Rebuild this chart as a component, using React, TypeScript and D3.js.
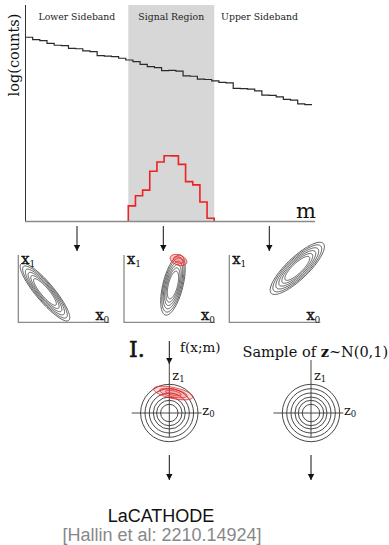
import * as d3 from 'd3';

// background histogram (log counts per mass bin, 40 bins)
const bkgLogCounts = [
  8.51, 8.4, 8.35, 8.23, 8.14, 8.12, 8.0, 7.98, 7.88, 7.85,
  7.66, 7.64, 7.62, 7.54, 7.46, 7.38, 7.26, 7.15, 7.11, 6.97,
  6.98, 6.95, 6.73, 6.71, 6.58, 6.56, 6.5, 6.43, 6.4, 6.15,
  6.14, 6.11, 6.03, 5.84, 5.83, 5.76, 5.64, 5.61, 5.43, 5.4,
];
// signal histogram (12 bins starting at the signal region edge)
const sigLogCounts = [0.72, 1.19, 1.45, 2.32, 2.75, 3.04, 3.03, 2.64, 1.84, 1.69, 0.9, 0.15];
const sigStart = 14.35;

const regionNames = ['Lower Sideband', 'Signal Region', 'Upper Sideband'];
const regionEdges = [0, 14.35, 26.35, 39];

// contours in (x0, x1) for each region
const ellCx = [2.93, 5.38, 7.47];
const ellCy = [3.33, 4.1, 5.93];
const ellAngle = [-50, 76, 43.7];
const ellMajor = [4.07, 3.4, 3.96];
const ellMinor = [1.0, 1.1, 1.2];
const ringScales = [0.46, 0.57, 0.68, 0.79, 0.9, 1];
const sigBlob = { cx: 5.99, cy: 6.85, a: 0.95, b: 0.55, angle: -20 };

// latent space circles
const circleRadii = [0.87, 1.27, 1.6, 2.0, 2.43, 2.87];
const zBlob = { cx: 0.4, cy: 2.0, a: 2.0, b: 0.55, angle: -12 };
const zBlobScales = [1, 0.7, 0.4];

const W = 389;
const H = 545;
const serif = 'DejaVu Serif';

const x = d3.scaleLinear().domain([0, 40]).range([25.5, 312]);
const y = d3.scaleLinear().domain([0, 10]).range([221.5, 5]);

function ellipsePath(
  sx: d3.ScaleLinear<number, number>,
  sy: d3.ScaleLinear<number, number>,
  cx: number, cy: number, a: number, b: number, angleDeg: number
) {
  const t = (angleDeg * Math.PI) / 180;
  const pts = d3.range(0, 2 * Math.PI, Math.PI / 60).map((u) => {
    const px = a * Math.cos(u);
    const py = b * Math.sin(u);
    return [cx + px * Math.cos(t) - py * Math.sin(t), cy + px * Math.sin(t) + py * Math.cos(t)] as [number, number];
  });
  return d3.line<[number, number]>()
    .x((d) => sx(d[0]))
    .y((d) => sy(d[1]))
    .curve(d3.curveLinearClosed)(pts) || '';
}

function Arrow({ x0, y0, y1 }: { x0: number; y0: number; y1: number }) {
  return <line x1={x0} x2={x0} y1={y0} y2={y1} stroke="#111" strokeWidth={1} markerEnd="url(#head)" />;
}

export default function App() {
  const step = d3.line<[number, number]>()
    .x((d) => x(d[0]))
    .y((d) => y(d[1]))
    .curve(d3.curveStepAfter);

  const bkgPts: [number, number][] = bkgLogCounts.map((v, i) => [i, v]);
  bkgPts.push([bkgLogCounts.length, bkgLogCounts[bkgLogCounts.length - 1]]);

  const sigPts: [number, number][] = [[sigStart, 0]];
  sigLogCounts.forEach((v, i) => sigPts.push([sigStart + i, v]));
  sigPts.push([sigStart + sigLogCounts.length, 0]);

  const panelOrigins = [18.3, 124, 229.3];
  const arrowX = [77, 163.3, 269.3];
  const zCenters = [169.3, 311];
  const zCy = 413;

  return (
    <svg width={W} height={H} style={{ position: 'absolute', left: 0, top: 0 }}>
      <defs>
        <marker id="head" viewBox="0 0 6 8" refX="6" refY="4" markerWidth="6" markerHeight="8"
          markerUnits="userSpaceOnUse" orient="auto">
          <path d="M0,0.8 L6,4 L0,7.2 Z" fill="#111" />
        </marker>
      </defs>
      <rect width={W} height={H} fill="#fff" />

      {/* signal region band */}
      <rect x={x(regionEdges[1])} y={y(10)} width={x(regionEdges[2]) - x(regionEdges[1])}
        height={y(0) - y(10)} fill="#d7d7d7" />

      {regionNames.map((n, i) => (
        <text key={n} x={x((regionEdges[i] + regionEdges[i + 1]) / 2)} y={20}
          textAnchor="middle" fontFamily={serif} fontSize={9.3} fill="#222">{n}</text>
      ))}

      <path d={step(bkgPts) || ''} fill="none" stroke="#2a2a2a" strokeWidth={1.2} />
      <path d={step(sigPts) || ''} fill="none" stroke="#ee2222" strokeWidth={1.6} />

      {/* axes */}
      <line x1={x(0)} x2={x(0)} y1={y(10)} y2={y(0)} stroke="#333" strokeWidth={1} />
      <line x1={x(0) - 0.5} x2={315} y1={y(0)} y2={y(0)} stroke="#8a8a8a" strokeWidth={1.6} />
      <text transform={`translate(19,55) rotate(-90)`} textAnchor="middle" fontFamily={serif}
        fontSize={14.5} fill="#111">log(counts)</text>
      <text x={306} y={218} textAnchor="middle" fontFamily={serif} fontSize={21} fill="#111">m</text>

      {arrowX.map((ax) => <Arrow key={ax} x0={ax} y0={226} y1={251} />)}

      {/* x-space panels */}
      {panelOrigins.map((ox, i) => {
        const sx = d3.scaleLinear().domain([0, 10]).range([ox, ox + 91]);
        const sy = d3.scaleLinear().domain([0, 7.4]).range([322.3, 255]);
        return (
          <g key={i}>
            <path d={`M${sx(0)},${sy(7.4)}V${sy(0)}H${sx(10)}`} fill="none" stroke="#8a8a8a" strokeWidth={1.3} />
            {ringScales.map((s) => (
              <path key={s} d={ellipsePath(sx, sy, ellCx[i], ellCy[i], ellMajor[i] * s, ellMinor[i] * s, ellAngle[i])}
                fill="none" stroke="#333" strokeWidth={0.8} />
            ))}
            {i === 1 && [1, 0.6].map((s) => (
              <path key={s} d={ellipsePath(sx, sy, sigBlob.cx, sigBlob.cy, sigBlob.a * s, sigBlob.b * s, sigBlob.angle)}
                fill="rgba(255,60,60,0.28)" stroke="#e22" strokeWidth={1} />
            ))}
            <text x={ox + 3} y={263.5} fontFamily={serif} fontSize={14.5} fill="#111" stroke="#111" strokeWidth={0.4}>
              x<tspan fontSize={9} strokeWidth={0} dy={3}>1</tspan>
            </text>
            <text x={sx(10)} y={320} textAnchor="end" fontFamily={serif} fontSize={14.5} fill="#111" stroke="#111" strokeWidth={0.4}>
              x<tspan fontSize={9} strokeWidth={0} dy={3}>0</tspan>
            </text>
          </g>
        );
      })}

      {/* flow */}
      <text x={129} y={357} fontFamily={serif} fontSize={22} fill="#111" stroke="#111" strokeWidth={0.6}>I.</text>
      <Arrow x0={169.3} y0={341} y1={364} />
      <text x={180} y={352} fontFamily={serif} fontSize={13.5} fill="#111">f(x;m)</text>
      <text x={242.5} y={356.5} fontFamily={serif} fontSize={14.5} fill="#111">
        Sample of <tspan fontWeight="bold">z</tspan>~N(0,1)
      </text>

      {zCenters.map((cx, k) => {
        const sx = d3.scaleLinear().domain([-1, 1]).range([cx - 10, cx + 10]);
        const sy = d3.scaleLinear().domain([-1, 1]).range([zCy + 10, zCy - 10]);
        return (
          <g key={k}>
            <line x1={sx(-3.76)} x2={sx(3.24)} y1={sy(0)} y2={sy(0)} stroke="#333" strokeWidth={0.9} />
            <line x1={sx(0)} x2={sx(0)} y1={sy(5.3)} y2={sy(-2.4)} stroke="#333" strokeWidth={0.9} />
            {circleRadii.map((r) => (
              <circle key={r} cx={sx(0)} cy={sy(0)} r={sx(r) - sx(0)} fill="none" stroke="#333" strokeWidth={0.9} />
            ))}
            {k === 0 && zBlobScales.map((s) => (
              <path key={s} d={ellipsePath(sx, sy, zBlob.cx, zBlob.cy, zBlob.a * s, zBlob.b * s, zBlob.angle)}
                fill="rgba(255,60,60,0.18)" stroke="#e22" strokeWidth={0.9} />
            ))}
            <text x={sx(0) + 3} y={sy(3.3)} fontFamily={serif} fontSize={13} fill="#111">
              z<tspan fontSize={8.5} dy={2}>1</tspan>
            </text>
            <text x={sx(3.3)} y={sy(-0.2)} fontFamily={serif} fontSize={13} fill="#111">
              z<tspan fontSize={8.5} dy={2}>0</tspan>
            </text>
            <Arrow x0={sx(0)} y0={455} y1={480} />
          </g>
        );
      })}

      <text x={161} y={521.5} textAnchor="middle" fontFamily="Liberation Sans" fontSize={18} fill="#111">LaCATHODE</text>
      <text x={162} y={541} textAnchor="middle" fontFamily="Liberation Sans" fontSize={18} fill="#888">
        [Hallin et al: 2210.14924]
      </text>
    </svg>
  );
}
